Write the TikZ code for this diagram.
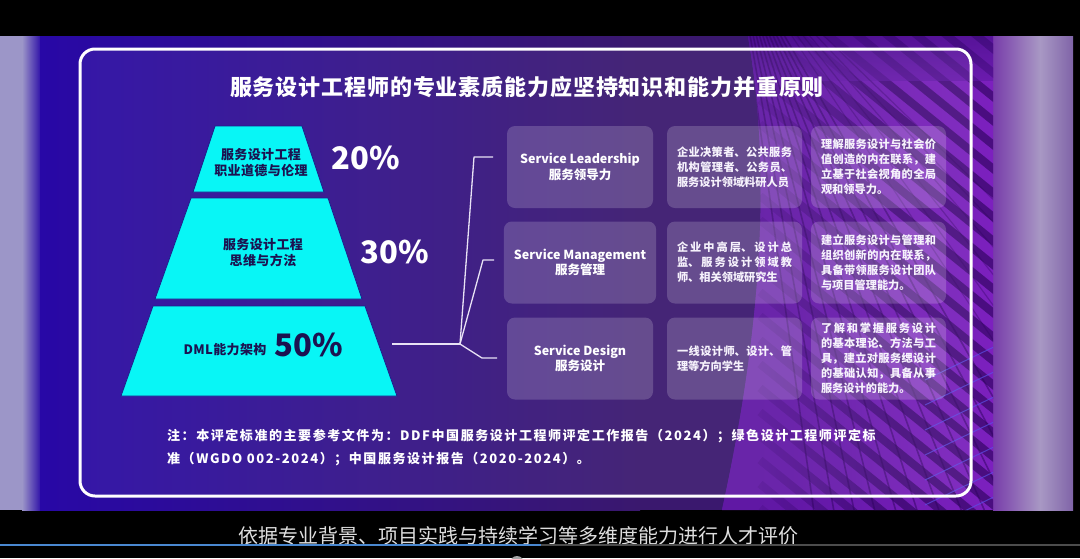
\documentclass[tikz,border=0pt]{standalone}
\usepackage{fontspec}
\usetikzlibrary{fadings}
\setmainfont{Noto Sans CJK SC}
\newfontfamily\cjk{Noto Sans CJK SC}
\newfontfamily\titlefont{Noto Sans CJK SC}[LetterSpace=4]
\newfontfamily\notefont{Noto Sans CJK SC}[LetterSpace=12]
\newfontfamily\pyrfont{Noto Sans CJK SC}[LetterSpace=3]
\XeTeXlinebreaklocale "zh"
\XeTeXlinebreakskip=0pt plus 2pt
\tolerance=5000
\tikzfading[name=fadeR, left color=transparent!0, right color=transparent!100]
\definecolor{bandL}{RGB}{40,8,166}
\definecolor{bandM}{RGB}{58,24,110}
\definecolor{purpA}{RGB}{96,24,164}
\definecolor{purpB}{RGB}{124,32,190}
\definecolor{purpTop}{RGB}{64,12,130}
\definecolor{stripe}{RGB}{48,4,96}
\definecolor{bluel}{RGB}{90,80,230}
\definecolor{cyanfill}{RGB}{8,246,246}
\definecolor{pyrline}{RGB}{30,30,140}
\definecolor{navytext}{RGB}{28,18,80}
\definecolor{textlight}{RGB}{246,242,252}
\definecolor{connc}{RGB}{232,226,245}
\definecolor{stripL}{RGB}{156,150,200}
\definecolor{stripR1}{RGB}{120,60,170}
\definecolor{stripR2}{RGB}{168,152,196}
\definecolor{stripR3}{RGB}{128,100,168}
\definecolor{subgray}{RGB}{222,222,222}
\definecolor{progblue}{RGB}{74,136,208}
\begin{document}
\begin{tikzpicture}[x=1pt,y=-1pt,
  tier/.style={fill=cyanfill,draw=pyrline,line width=0.8pt},
  pyrtext/.style={text=navytext,align=center,font=\pyrfont\bfseries\fontsize{13}{16}\selectfont,inner sep=0pt},
  pct/.style={font=\cjk\bfseries\fontsize{31}{31}\selectfont,inner sep=0pt},
  card/.style={fill=white,fill opacity=0.18,text opacity=1,rounded corners=8pt,draw=none,inner xsep=10pt,inner ysep=3pt},
  headcard/.style={card,minimum width=146pt,minimum height=82pt,align=center,text=white,font=\cjk\bfseries\fontsize{12.5}{15.5}\selectfont},
  bodycard/.style={card,minimum height=82pt,text width=115pt,align=justify,text=textlight,font=\cjk\bfseries\fontsize{11.2}{15}\selectfont},
  conn/.style={draw=connc,line width=1.3pt},
]
\useasboundingbox (0,0) rectangle (1080,558);
% black base
\fill[black] (0,0) rectangle (1080,558);
% left strip
\fill[stripL] (0,36) rectangle (22,510);
\shade[left color=stripL,right color=bandL] (22,36) rectangle (42,510);
% right strip
\shade[left color=stripR1,right color=stripR2] (993,36) rectangle (1040,510);
\shade[left color=stripR2,right color=stripR3] (1040,36) rectangle (1073,510);
% main band
\shade[left color=bandL,right color=bandM] (40,36) rectangle (640,510);
\fill[bandM] (640,36) rectangle (993,510);
% bright purple region with stripes
\begin{scope}
  \clip (748,36) .. controls (768,150) and (768,300) .. (722,510) -- (993,510) -- (993,36) -- cycle;
  \shade[left color=purpA,right color=purpB] (720,36) rectangle (993,510);
  % parallel wide stripes on the right
  \foreach \i in {0,...,36}
    \draw[stripe,opacity=0.65,line width=8pt] (760,-260+24*\i) -- ++(39:700);
  % fade the stripes out towards the left
  \fill[purpA,path fading=fadeR] (720,36) rectangle (900,510);
  \shade[top color=purpTop,bottom color=purpA,opacity=0.6] (720,36) rectangle (993,80);
  % steep thin lines fanning out
  \foreach \a in {60,62,...,82}
    \draw[stripe,opacity=0.5,line width=1.6pt] (735,-50) -- ++(\a:1000);
  \foreach \a in {44,46.5,...,58}
    \draw[stripe,opacity=0.35,line width=1.2pt] (735,-50) -- ++(\a:1000);
  % thin blue cross lines
  \foreach \y in {380,405,430,455,480,505,530,555}
    \draw[bluel,opacity=0.7,line width=1pt] (925,\y) -- (1000,\y-36);
\end{scope}
% frame
\fill[white,fill opacity=0.06,rounded corners=15pt] (80,49) rectangle (971,496);
\draw[white,line width=3pt,rounded corners=15pt] (80,49) rectangle (971,496);
% title
\node[font=\titlefont\bfseries\fontsize{22}{22}\selectfont,text=white] (title) at (527,87) {服务设计工程师的专业素质能力应坚持知识和能力并重原则};
% pyramid
\path[tier] (215,126) -- (302,126) -- (324,192) -- (193,192) -- cycle;
\path[tier] (191,198) -- (328,198) -- (362,299) -- (155,299) -- cycle;
\path[tier] (153,306) -- (365,306) -- (397,396) -- (121,396) -- cycle;
\node[pyrtext] (t1) at (261,163) {服务设计工程\\职业道德与伦理};
\node[pyrtext] (t2) at (263,253) {服务设计工程\\思维与方法};
\node[pyrtext] (t3) at (225,350) {DML能力架构};
\node[pct,text=white] (p20) at (366,158) {20\%};
\node[pct,text=white] (p30) at (395,252) {30\%};
\node[pct,text=navytext] (p50) at (309,345) {50\%};
% cards
\node[headcard] (lead) at (580,167) {Service Leadership\\服务领导力};
\node[headcard] (mgmt) at (580,262.5) {Service Management\\服务管理};
\node[headcard] (desg) at (580,358.5) {Service Design\\服务设计};
\node[bodycard] (aud1) at (734.5,167) {企业决策者、公共服务机构管理者、公务员、服务设计领域料研人员};
\node[bodycard] (aud2) at (734.5,262.5) {企业中高层、设计总监、服务设计领域教师、相关领域研究生};
\node[bodycard] (aud3) at (734.5,358.5) {一线设计师、设计、管理等方向学生};
\node[bodycard] (cap1) at (878.5,167) {理解服务设计与社会价值创造的内在联系，建立基于社会视角的全局观和领导力。};
\node[bodycard] (cap2) at (878.5,262.5) {建立服务设计与管理和组织创新的内在联系，具备带领服务设计团队与项目管理能力。};
\node[bodycard] (cap3) at (878.5,358.5) {了解和掌握服务设计的基本理论、方法与工具，建立对服务缌设计的基础认知，具备从事服务设计的能力。};
% connectors
\coordinate (start) at (392,344);
\coordinate (hub) at (460,344);
\coordinate (k1) at (474,157);
\coordinate (e1) at (493,157);
\coordinate (k2) at (483,260);
\coordinate (e2) at (494,260);
\coordinate (k3) at (482,358);
\coordinate (e3) at (497,358);
\draw[conn] (start) -- (hub);
\draw[conn,line join=round] (hub) -- (k1) -- (e1);
\draw[conn,line join=round] (hub) -- (k2) -- (e2);
\draw[conn,line join=round] (hub) -- (k3) -- (e3);
% note
\node[anchor=west,align=left,text=white,inner sep=0pt,font=\notefont\bfseries\fontsize{13}{23}\selectfont] (note) at (167,448) {注：本评定标准的主要参考文件为：DDF中国服务设计工程师评定工作报告（2024）；绿色设计工程师评定标\\准（WGDO 002-2024）；中国服务设计报告（2020-2024）。};
% subtitle and progress bar
\node[font=\cjk\fontsize{20}{20}\selectfont,text=subgray] (sub) at (518,536) {依据专业背景、项目实践与持续学习等多维度能力进行人才评价};
\draw[gray!60!black,line width=1.5pt] (541,545) -- (1080,545);
\draw[progblue,line width=2pt] (0,545) -- (541,545);
\fill[gray!70] (517,563) circle (7);
\end{tikzpicture}
\end{document}
